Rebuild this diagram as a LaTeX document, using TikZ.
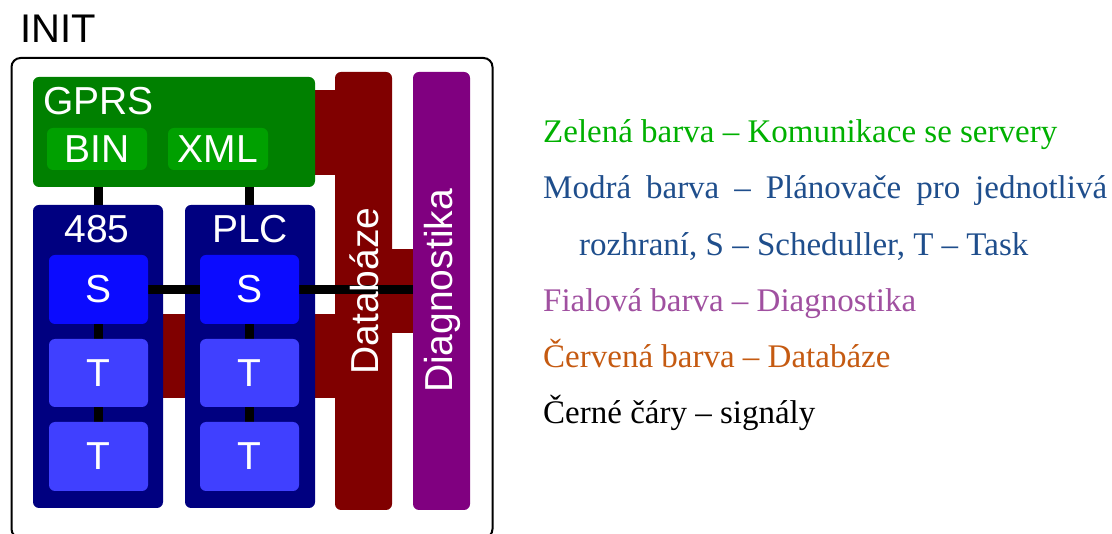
\documentclass[tikz,border=0pt]{standalone}
\usepackage{fontspec}
\setmainfont{Liberation Serif}
\newfontfamily\arialf{Liberation Sans}
\definecolor{gprsgreen}{HTML}{008000}
\definecolor{subgreen}{HTML}{00A000}
\definecolor{navy}{HTML}{000080}
\definecolor{sblue}{HTML}{0B0BFF}
\definecolor{tblue}{HTML}{4040FF}
\definecolor{dbred}{HTML}{800000}
\definecolor{diagpurple}{HTML}{800080}
\definecolor{lgreen}{HTML}{00B000}
\definecolor{lblue}{HTML}{1F4E8C}
\definecolor{lpurple}{HTML}{A050A0}
\definecolor{lorange}{HTML}{C55A11}
\newcommand\dfont{\arialf\fontsize{39}{41}\selectfont}
\newcommand\lfont{\fontsize{33}{36}\selectfont}
\pgfdeclarelayer{bg}
\pgfdeclarelayer{lines}
\pgfdeclarelayer{top}
\pgfsetlayers{bg,main,lines,top}
\tikzset{
  blk/.style={rounded corners=6pt, inner sep=0pt, draw=none},
  lbl/.style={inner sep=0pt, text=white, font=\dfont},
  sig/.style={draw=black, line width=8.5pt},
  band/.style={draw=dbred},
  legend/.style={inner sep=0pt, anchor=base west, font=\lfont}
}
\begin{document}
\begin{tikzpicture}[x=1pt,y=-1pt]
\useasboundingbox (0,0) rectangle (1112,534);
% outer frame
\node[draw=black, line width=2pt, rounded corners=9pt, minimum width=481pt, minimum height=480pt, inner sep=0pt] (frame) at (252,298) {};
\node[inner sep=0pt, anchor=base west, font=\arialf\fontsize{40}{42}\selectfont] (init) at (20,43) {INIT};
% big blocks
\node[blk, fill=gprsgreen, minimum width=282pt, minimum height=110pt] (gprs) at (174,132) {};
\node[blk, fill=navy, minimum width=130pt, minimum height=303pt] (b485) at (98,356.5) {};
\node[blk, fill=navy, minimum width=130pt, minimum height=303pt] (plc) at (250,356.5) {};
\node[blk, fill=dbred, minimum width=57pt, minimum height=438pt] (db) at (363.5,291) {};
\node[blk, fill=diagpurple, minimum width=57pt, minimum height=438pt] (diag) at (441.5,291) {};
% red bands
\begin{pgfonlayer}{bg}
\draw[band, line width=85pt] (gprs.east |- 0,132.5) -- (db.west |- 0,132.5);
\draw[band, line width=84pt] (db.center) -- (diag.center);
\draw[band, line width=84pt] (b485.east |- 0,356) -- (db.west |- 0,356);
\end{pgfonlayer}
% inner blocks and labels
\begin{pgfonlayer}{top}
\node[blk, fill=subgreen, minimum width=100pt, minimum height=42pt, lbl] (bin) at (97,149) {BIN};
\node[blk, fill=subgreen, minimum width=100pt, minimum height=42pt, lbl] (xml) at (218,149) {XML};
\node[lbl, anchor=base west] (gprst) at (43,115) {GPRS};
\node[lbl, anchor=base] (t485) at (97,243) {485};
\node[lbl, anchor=base] (tplc) at (250,243) {PLC};
\node[blk, fill=sblue, minimum width=99pt, minimum height=69pt, lbl] (s1) at (98.5,289.5) {S};
\node[blk, fill=tblue, minimum width=99pt, minimum height=68pt, lbl] (t11) at (98.5,373) {T};
\node[blk, fill=tblue, minimum width=99pt, minimum height=69pt, lbl] (t12) at (98.5,456.5) {T};
\node[blk, fill=sblue, minimum width=99pt, minimum height=69pt, lbl] (s2) at (249.5,289.5) {S};
\node[blk, fill=tblue, minimum width=99pt, minimum height=68pt, lbl] (t21) at (249.5,373) {T};
\node[blk, fill=tblue, minimum width=99pt, minimum height=69pt, lbl] (t22) at (249.5,456.5) {T};
\node[lbl, rotate=90, anchor=base] (dbt) at (378,291) {Databáze};
\node[lbl, rotate=90, anchor=base] (diagt) at (452,291) {Diagnostika};
\end{pgfonlayer}
% signals
\begin{pgfonlayer}{lines}
\draw[sig] (gprs.south -| s1.center) -- (b485.north -| s1.center);
\draw[sig] (gprs.south -| s2.center) -- (plc.north -| s2.center);
\draw[sig] (s1.east) -- (s2.west);
\draw[sig] (s2.east) -- (diag.west |- s2.east);
\draw[sig] (s1.south) -- (t11.north);
\draw[sig] (t11.south) -- (t12.north);
\draw[sig] (s2.south) -- (t21.north);
\draw[sig] (t21.south) -- (t22.north);
\end{pgfonlayer}
% legend
\node[legend, text=lgreen] (l1) at (543,143) {Zelená barva – Komunikace se servery};
\node[legend, text=lblue] (l2) at (543,199) {\makebox[564pt][s]{Modrá barva – Plánovače pro jednotlivá}};
\node[legend, text=lblue] (l3) at (579,256) {rozhraní, S – Scheduller, T – Task};
\node[legend, text=lpurple] (l4) at (543,312) {Fialová barva – Diagnostika};
\node[legend, text=lorange] (l5) at (543,368) {Červená barva – Databáze};
\node[legend, text=black] (l6) at (543,424) {Černé čáry – signály};
\end{tikzpicture}
\end{document}
